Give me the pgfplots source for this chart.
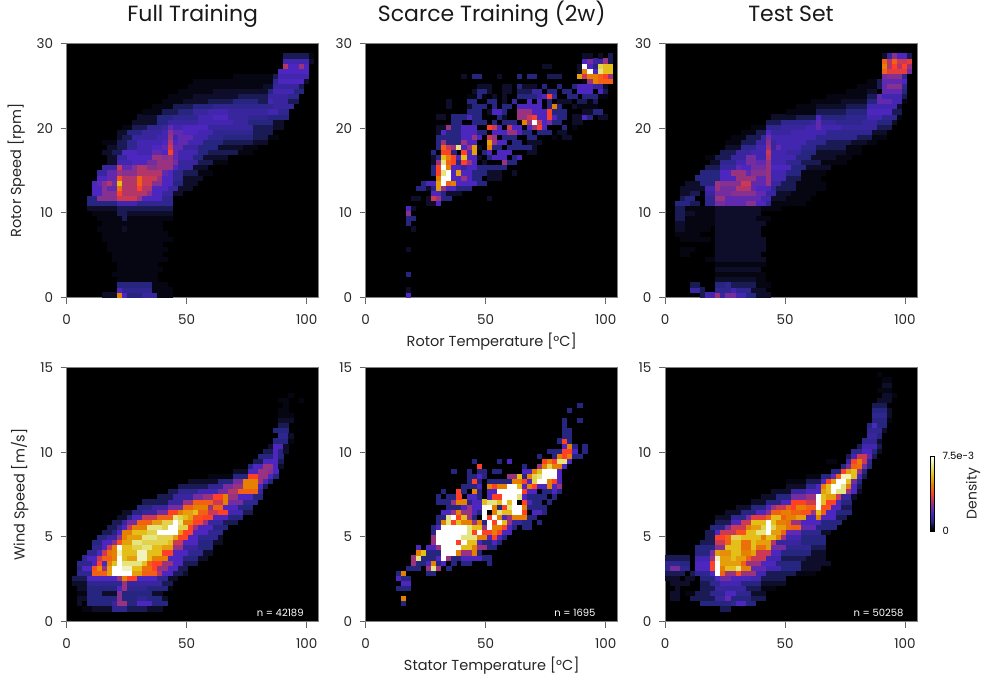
\documentclass[border=0pt]{standalone}
\usepackage{pgfplots}
\pgfplotsset{compat=1.18}
\usepackage{pgfplotstable}
\usepackage{fontspec}
\setmainfont{Poppins}
\pgfdeclareplotmark{cell}{\pgfpathrectangle{\pgfpointorigin}{\pgfpoint{\cw pt}{5.2pt}}\pgfusepathqfill}
% i = first bin, j = row, n = bins in the run, v = density level (0 to 32 = 0 to 7.5e-3)
\pgfplotstableread{
i j n v
7 0 3 2
10 0 1 20
11 0 1 8
12 0 3 4
15 0 3 6
18 0 3 1
10 1 1 8
11 1 3 5
14 1 3 5
17 1 4 1
10 2 7 4
17 2 3 1
10 3 8 1
9 4 9 1
10 5 9 1
10 6 8 1
9 7 11 1
9 8 10 1
8 9 12 1
8 10 11 1
7 11 14 1
7 12 13 1
6 13 5 1
11 13 1 2
12 13 7 1
7 14 12 1
6 15 5 1
11 15 1 3
12 15 9 1
5 16 5 1
10 16 2 3
12 16 9 2
4 17 6 2
10 17 11 3
4 18 6 4
10 18 4 7
14 18 7 5
4 19 2 4
6 19 4 11
10 19 4 14
14 19 1 12
15 19 4 8
19 19 2 5
5 20 2 8
7 20 3 11
10 20 1 16
11 20 5 13
16 20 1 11
17 20 2 8
19 20 2 6
21 20 2 2
5 21 2 8
7 21 1 11
8 21 2 9
10 21 1 19
11 21 3 13
14 21 1 16
15 21 2 13
17 21 3 8
20 21 2 6
22 21 3 2
5 22 1 8
6 22 1 9
7 22 1 11
8 22 1 13
9 22 1 10
10 22 1 24
11 22 3 13
14 22 1 18
15 22 2 14
17 22 2 11
19 22 2 8
21 22 2 4
23 22 3 2
6 23 2 8
8 23 2 9
10 23 1 17
11 23 3 13
14 23 1 18
15 23 3 14
18 23 1 12
19 23 2 8
21 23 2 5
23 23 4 2
6 24 2 6
8 24 2 9
10 24 1 12
11 24 3 11
14 24 2 13
16 24 3 13
19 24 1 9
20 24 1 8
21 24 2 5
23 24 3 3
26 24 3 1
7 25 3 6
10 25 1 14
11 25 2 9
13 25 1 11
14 25 2 13
16 25 2 11
18 25 3 12
21 25 1 8
22 25 3 6
25 25 3 2
8 26 2 2
10 26 3 7
13 26 3 8
16 26 2 10
18 26 2 12
20 26 1 12
21 26 1 10
22 26 4 6
26 26 3 3
29 26 3 1
8 27 2 2
10 27 2 6
12 27 5 8
17 27 2 12
19 27 1 11
20 27 1 12
21 27 1 9
22 27 3 7
25 27 2 4
27 27 5 2
7 28 2 2
9 28 2 3
11 28 3 8
14 28 3 7
17 28 2 9
19 28 1 8
20 28 1 16
21 28 1 9
22 28 4 7
26 28 2 4
28 28 6 3
34 28 3 1
8 29 2 2
10 29 2 3
12 29 2 5
14 29 3 7
17 29 2 8
19 29 1 9
20 29 1 14
21 29 2 9
23 29 3 6
26 29 4 4
30 29 5 2
35 29 3 1
7 30 3 1
10 30 2 3
12 30 2 5
14 30 5 7
19 30 1 8
20 30 1 13
21 30 1 8
22 30 2 9
24 30 3 7
27 30 4 4
31 30 6 3
37 30 3 2
10 31 1 2
11 31 2 3
13 31 5 6
18 31 2 7
20 31 1 12
21 31 1 7
22 31 3 9
25 31 3 7
28 31 3 5
31 31 6 4
37 31 3 3
40 31 2 1
10 32 2 2
12 32 3 4
15 32 4 6
19 32 1 7
20 32 1 11
21 32 2 9
23 32 3 8
26 32 3 7
29 32 8 5
37 32 4 3
11 33 2 1
13 33 3 3
16 33 3 5
19 33 1 6
20 33 1 9
21 33 2 7
23 33 5 8
28 33 9 6
37 33 4 3
41 33 2 2
13 34 5 2
18 34 2 4
20 34 6 6
26 34 7 7
33 34 3 6
36 34 5 4
41 34 2 2
14 35 4 2
18 35 3 4
21 35 5 5
26 35 3 7
29 35 3 8
32 35 4 6
36 35 4 5
40 35 4 4
15 36 4 1
19 36 3 3
22 36 3 4
25 36 3 6
28 36 4 7
32 36 8 6
40 36 2 7
42 36 2 5
17 37 4 1
21 37 4 3
25 37 4 4
29 37 12 5
41 37 4 6
19 38 4 1
23 38 5 2
28 38 5 3
33 38 5 4
38 38 2 3
40 38 1 7
41 38 3 6
44 38 2 3
20 39 5 1
25 39 9 2
34 39 6 3
40 39 4 6
44 39 2 5
22 40 7 1
29 40 11 2
40 40 1 4
41 40 4 7
45 40 2 4
24 41 15 1
39 41 2 2
41 41 5 6
46 41 1 3
25 42 16 1
41 42 1 5
42 42 5 8
47 42 1 2
33 43 8 1
41 43 1 3
42 43 6 7
42 44 6 8
43 45 1 13
44 45 2 8
46 45 1 12
47 45 1 8
43 46 5 7
48 46 1 2
43 47 5 3
48 47 1 1
}\tA
\pgfplotstableread{
i j n v
8 0 1 8
8 1 1 2
8 4 1 4
8 9 1 2
9 13 1 2
8 14 1 4
8 15 2 4
8 16 1 11
8 17 1 8
9 17 1 2
12 18 2 2
14 18 1 8
9 19 2 2
12 19 1 2
13 19 1 14
14 19 1 12
15 19 2 4
24 19 1 2
13 20 2 8
15 20 1 4
16 20 3 2
10 21 2 4
12 21 1 2
13 21 1 4
14 21 1 22
15 21 1 12
16 21 2 8
18 21 3 4
11 22 1 4
12 22 2 8
14 22 1 22
15 22 1 32
16 22 1 18
17 22 1 20
18 22 3 8
21 22 1 8
22 22 2 4
14 23 1 20
15 23 2 32
17 23 2 8
19 23 1 12
20 23 1 8
21 23 2 4
24 23 3 2
13 24 1 4
14 24 1 16
15 24 1 28
16 24 1 32
17 24 1 8
18 24 1 22
19 24 2 8
21 24 1 4
22 24 2 4
24 24 3 2
29 24 1 2
13 25 1 4
14 25 1 16
15 25 1 32
16 25 1 20
17 25 2 8
19 25 1 6
20 25 2 8
22 25 4 4
26 25 2 4
13 26 1 2
14 26 1 12
15 26 1 28
16 26 1 18
17 26 1 16
18 26 1 4
19 26 1 16
20 26 1 12
21 26 1 8
23 26 1 2
27 26 1 12
28 26 2 4
13 27 1 2
14 27 1 4
15 27 1 24
16 27 1 20
17 27 1 16
18 27 1 8
19 27 1 24
20 27 2 8
22 27 1 2
24 27 1 4
25 27 3 8
29 27 1 4
30 27 1 8
13 28 1 4
15 28 2 16
17 28 1 4
19 28 1 16
20 28 1 8
21 28 1 22
23 28 1 4
24 28 1 8
26 28 3 8
32 28 2 2
14 29 2 4
15 29 1 18
16 29 1 14
17 29 1 12
18 29 1 28
19 29 1 8
20 29 1 12
21 29 1 22
22 29 1 2
24 29 1 20
25 29 2 4
28 29 5 4
33 29 1 2
14 30 1 4
15 30 1 12
16 30 1 4
17 30 2 4
19 30 1 12
20 30 2 8
24 30 1 22
25 30 1 12
26 30 2 8
29 30 2 4
32 30 2 2
34 30 1 2
14 31 5 4
19 31 2 8
21 31 1 12
22 31 1 8
24 31 1 14
25 31 1 12
27 31 3 4
32 31 2 4
37 31 1 1
39 31 2 2
14 32 1 2
15 32 1 8
16 32 1 4
17 32 2 4
19 32 1 8
20 32 2 8
22 32 2 4
25 32 3 8
28 32 1 12
29 32 1 12
30 32 1 8
31 32 2 4
34 32 3 4
38 32 2 2
14 33 3 2
16 33 1 12
17 33 2 4
19 33 3 8
24 33 1 16
25 33 1 14
26 33 1 8
28 33 1 14
29 33 2 8
32 33 1 8
33 33 1 12
34 33 1 16
35 33 1 8
39 33 1 4
41 33 1 1
17 34 2 4
21 34 3 4
25 34 1 4
27 34 3 4
31 34 1 20
32 34 1 12
33 34 1 32
34 34 1 14
35 34 3 8
36 34 1 10
37 34 2 4
41 34 1 2
42 34 1 2
14 35 2 2
17 35 3 4
20 35 1 8
21 35 2 4
26 35 1 4
27 35 1 2
30 35 2 12
32 35 1 14
33 35 1 16
34 35 2 8
36 35 1 16
37 35 1 8
38 35 2 4
41 35 2 2
43 35 1 8
44 35 1 4
46 35 2 2
20 36 3 4
24 36 1 2
25 36 2 8
27 36 1 4
30 36 3 12
33 36 3 8
36 36 1 16
37 36 3 4
43 36 2 2
45 36 2 4
16 37 1 2
20 37 1 2
21 37 3 4
25 37 1 4
27 37 2 4
30 37 3 8
33 37 2 8
36 37 2 4
37 37 1 20
38 37 1 4
41 37 3 2
42 37 4 1
16 38 1 2
20 38 2 4
24 38 2 4
27 38 1 2
29 38 1 6
32 38 1 8
34 38 1 8
36 38 1 4
38 38 3 2
42 38 4 3
44 38 1 1
20 39 4 1
22 39 1 4
25 39 1 2
27 39 1 2
30 39 4 4
34 39 1 6
35 39 1 8
36 39 1 16
37 39 1 6
40 39 2 4
43 39 4 4
46 39 2 1
21 40 1 2
22 40 2 4
24 40 1 2
27 40 2 2
30 40 3 3
33 40 2 6
36 40 2 4
39 40 2 4
42 40 1 8
43 40 2 8
46 40 1 8
47 40 1 3
22 41 3 2
27 41 2 2
30 41 1 4
31 41 3 2
35 41 1 4
38 41 1 4
41 41 2 4
42 41 3 8
45 41 1 6
46 41 2 6
47 41 1 2
19 43 1 2
21 43 2 4
26 43 1 2
30 43 1 4
32 43 2 4
36 43 2 3
38 43 1 3
43 42 1 1
44 42 1 12
45 42 1 20
46 42 3 18
42 43 1 22
43 43 1 14
44 43 2 20
46 43 2 18
47 43 1 16
48 43 1 12
42 44 1 2
43 44 1 20
44 44 1 32
45 44 1 8
46 44 1 28
47 44 2 24
35 45 2 2
42 45 2 2
43 45 1 32
44 45 1 8
45 45 1 4
46 45 1 26
47 45 2 24
43 46 1 8
44 46 1 10
45 46 2 6
47 46 1 12
48 46 1 3
43 47 2 2
46 47 1 2
48 47 1 3
}\tB
\pgfplotstableread{
i j n v
7 0 1 3
8 0 2 7
10 0 1 12
11 0 1 6
12 0 2 10
14 0 2 7
16 0 2 4
18 0 3 2
5 1 2 6
7 1 1 3
10 1 3 5
13 1 1 7
14 1 3 5
17 1 3 2
5 2 2 3
10 2 2 4
12 2 1 5
13 2 5 3
18 2 3 1
10 3 8 2
18 3 2 1
10 4 10 1
10 5 9 2
10 6 10 1
8 7 2 1
10 7 10 2
3 8 2 1
10 8 9 2
3 9 3 1
10 9 10 2
10 10 10 2
3 11 6 1
10 11 10 2
2 12 5 1
10 12 9 2
2 13 2 2
4 13 5 1
10 13 9 2
2 14 2 2
4 14 6 1
10 14 10 2
2 15 2 3
4 15 6 1
10 15 8 2
18 15 3 1
2 16 2 3
4 16 2 2
6 16 4 1
10 16 9 2
2 17 2 3
4 17 6 1
10 17 9 2
19 17 4 1
2 18 3 4
5 18 2 3
8 18 2 5
10 18 2 10
12 18 4 9
16 18 2 11
18 18 2 8
20 18 1 5
21 18 7 1
3 19 2 3
4 19 2 4
8 19 2 5
10 19 2 12
12 19 5 9
17 19 2 9
19 19 2 7
21 19 3 2
24 19 5 1
3 20 2 2
5 20 2 3
8 20 2 6
10 20 3 10
13 20 3 11
16 20 2 11
18 20 2 9
20 20 2 6
22 20 3 2
25 20 5 1
3 21 3 2
6 21 3 2
8 21 2 7
10 21 1 12
11 21 3 10
14 21 3 13
17 21 1 9
18 21 3 8
21 21 1 5
22 21 4 3
26 21 6 1
4 22 3 2
7 22 3 4
10 22 1 12
11 22 4 11
15 22 2 14
17 22 3 9
20 22 1 12
21 22 2 6
23 22 3 3
26 22 6 1
6 23 5 4
11 23 3 8
14 23 4 12
18 23 2 9
20 23 1 12
21 23 3 7
24 23 3 3
27 23 4 1
7 24 4 4
11 24 2 8
13 24 3 12
16 24 1 9
17 24 3 11
20 24 1 12
21 24 3 7
24 24 3 4
27 24 5 1
8 25 3 3
11 25 3 6
14 25 1 9
15 25 2 8
17 25 3 10
20 25 1 12
21 25 4 8
25 25 3 4
28 25 5 2
9 26 2 2
11 26 3 5
14 26 2 7
16 26 2 10
18 26 2 9
20 26 1 12
21 26 3 7
24 26 3 5
27 26 4 3
31 26 5 1
8 27 2 1
10 27 3 3
13 27 3 6
16 27 2 10
18 27 2 7
20 27 1 13
21 27 5 7
26 27 3 4
29 27 5 2
34 27 3 1
11 28 3 3
14 28 3 6
17 28 3 7
20 28 1 14
21 28 3 7
24 28 3 6
27 28 3 4
30 28 6 2
36 28 3 1
12 29 3 2
15 29 3 5
18 29 2 7
20 29 1 12
21 29 1 6
22 29 1 9
23 29 1 7
24 29 3 7
27 29 3 5
30 29 6 3
36 29 3 1
12 30 3 1
15 30 3 3
18 30 2 6
20 30 1 11
21 30 1 6
22 30 3 7
25 30 3 7
28 30 4 5
32 30 5 3
37 30 3 2
40 30 2 1
13 31 3 1
16 31 3 3
19 31 1 6
20 31 1 10
21 31 5 7
26 31 4 7
30 31 8 5
38 31 3 3
41 31 3 1
15 32 3 1
18 32 2 3
20 32 1 8
21 32 4 6
25 32 3 7
28 32 3 7
31 32 1 7
32 32 6 5
38 32 3 5
41 32 3 2
17 33 3 1
20 33 3 5
23 33 5 6
28 33 3 7
30 33 1 9
31 33 4 7
35 33 5 6
40 33 2 6
42 33 3 3
20 34 3 3
23 34 6 5
29 34 5 6
30 34 1 9
34 34 5 5
39 34 3 6
42 34 3 4
45 34 1 2
21 35 5 2
26 35 4 3
30 35 1 8
31 35 5 4
36 35 4 5
40 35 3 7
43 35 3 5
46 35 1 1
24 36 6 1
30 36 6 3
36 36 4 4
40 36 1 8
41 36 4 8
45 36 2 3
26 37 4 1
30 37 6 2
36 37 4 3
40 37 6 7
46 37 1 2
29 38 6 1
35 38 5 2
40 38 2 4
42 38 3 9
45 38 2 7
47 38 1 1
32 39 8 1
40 39 2 3
42 39 1 9
43 39 4 7
47 39 1 3
36 40 4 1
40 40 2 2
43 40 1 6
43 40 4 9
47 40 1 4
38 41 4 1
42 41 1 3
43 41 1 9
44 41 4 11
47 41 1 5
40 42 2 1
42 42 1 3
43 42 5 9
47 42 1 8
43 43 1 10
44 43 4 11
47 43 1 5
43 44 1 18
44 44 4 15
48 44 1 10
43 45 1 20
44 45 1 13
45 45 1 16
46 45 1 13
47 45 1 16
48 45 1 12
43 46 1 18
44 46 1 13
45 46 1 18
46 46 2 14
48 46 1 15
43 47 1 2
44 47 1 6
45 47 1 11
46 47 2 8
48 47 1 3
}\tC
\pgfplotstableread{
i j n v
3 2 2 1
5 2 4 2
9 2 3 5
12 2 4 3
16 2 3 2
2 3 1 2
4 3 5 4
9 3 1 6
10 3 2 12
12 3 2 4
14 3 3 8
17 3 3 4
2 4 2 2
4 4 6 4
10 4 1 11
11 4 3 4
14 4 2 5
16 4 3 4
19 4 1 2
2 5 2 1
4 5 3 4
7 5 3 2
10 5 1 11
11 5 6 4
17 5 2 2
2 6 2 2
4 6 6 4
10 6 1 8
11 6 1 12
12 6 4 5
16 6 4 4
20 6 1 1
1 7 3 2
4 7 7 5
11 7 1 12
12 7 7 6
19 7 2 3
1 8 3 3
4 8 6 8
10 8 1 12
11 8 1 20
12 8 2 16
14 8 4 8
18 8 2 5
20 8 2 2
2 9 3 5
5 9 3 18
8 9 1 22
9 9 4 32
13 9 2 22
15 9 3 18
18 9 1 13
19 9 2 8
21 9 2 3
23 9 1 2
2 10 1 4
3 10 2 8
5 10 1 17
6 10 1 21
7 10 1 12
8 10 1 22
9 10 2 32
11 10 2 30
13 10 2 24
15 10 2 19
17 10 1 16
18 10 2 12
20 10 2 8
22 10 2 3
2 11 3 5
5 11 1 8
6 11 1 16
7 11 1 8
8 11 1 20
9 11 1 24
10 11 1 32
11 11 4 28
15 11 1 24
16 11 1 18
17 11 2 16
19 11 2 12
21 11 2 8
23 11 3 3
3 12 1 5
4 12 2 8
6 12 1 14
7 12 2 18
9 12 1 20
10 12 1 32
11 12 1 24
12 12 2 22
14 12 2 30
16 12 1 24
17 12 3 20
20 12 3 8
23 12 3 4
26 12 2 2
4 13 2 5
6 13 1 8
7 13 1 14
8 13 1 19
9 13 1 20
10 13 1 30
11 13 3 24
14 13 2 30
16 13 3 24
19 13 2 16
21 13 3 8
24 13 3 5
27 13 2 2
5 14 2 5
7 14 1 8
8 14 1 14
9 14 1 20
10 14 1 32
11 14 2 24
13 14 2 26
15 14 2 28
17 14 2 24
19 14 2 22
21 14 2 12
23 14 3 6
26 14 3 4
5 15 2 4
7 15 2 8
9 15 1 11
10 15 1 17
11 15 2 22
13 15 2 28
15 15 5 26
20 15 1 24
21 15 2 14
23 15 3 8
26 15 3 4
29 15 2 2
6 16 2 4
8 16 2 6
10 16 1 12
11 16 1 20
12 16 3 22
15 16 3 28
18 16 3 26
21 16 1 22
22 16 2 16
24 16 2 8
26 16 4 5
30 16 1 2
7 17 2 3
9 17 1 4
10 17 1 8
11 17 2 20
13 17 3 24
16 17 2 26
18 17 4 32
22 17 1 22
23 17 2 16
25 17 3 8
28 17 3 5
8 18 2 3
10 18 1 5
11 18 1 8
12 18 1 14
13 18 3 20
16 18 3 28
19 18 1 26
20 18 2 32
22 18 2 26
24 18 1 16
25 18 1 12
26 18 3 8
29 18 3 4
9 19 2 3
11 19 1 6
12 19 2 10
14 19 3 18
17 19 2 22
19 19 2 26
21 19 1 32
22 19 1 28
23 19 2 20
25 19 2 16
27 19 1 12
28 19 3 6
31 19 3 3
10 20 2 2
12 20 1 4
13 20 2 8
15 20 3 14
18 20 3 18
21 20 1 28
22 20 1 26
23 20 1 24
24 20 1 22
25 20 2 17
27 20 2 16
29 20 3 8
32 20 3 4
11 21 2 2
13 21 2 4
15 21 3 6
18 21 2 10
20 21 2 16
22 21 1 20
23 21 2 22
25 21 1 24
26 21 2 18
28 21 2 14
30 21 2 16
32 21 3 7
35 21 2 3
14 22 3 4
17 22 3 6
20 22 3 10
23 22 2 18
25 22 3 20
28 22 1 12
29 22 2 18
31 22 3 8
34 22 3 4
15 23 5 3
20 23 3 6
23 23 2 12
25 23 4 18
29 23 2 14
31 23 1 20
32 23 3 10
35 23 3 5
18 24 3 3
21 24 4 6
25 24 2 10
27 24 2 12
29 24 2 16
31 24 1 20
32 24 2 12
34 24 3 8
37 24 2 4
20 25 2 3
22 25 4 5
26 25 4 7
30 25 2 10
32 25 2 13
34 25 4 18
38 25 1 6
22 26 6 3
28 26 3 5
31 26 2 10
33 26 2 12
35 26 3 20
38 26 1 8
39 26 1 3
24 27 6 2
30 27 3 4
33 27 2 10
35 27 3 20
38 27 1 12
39 27 1 8
40 27 1 4
28 28 5 1
33 28 3 4
36 28 2 16
38 28 2 12
40 28 1 8
41 28 1 4
33 29 3 2
36 29 2 8
38 29 2 12
40 29 1 11
41 29 1 8
36 30 1 4
37 30 2 8
39 30 2 12
41 30 1 8
42 30 1 2
37 31 2 3
39 31 2 8
41 31 1 8
42 31 1 3
38 32 3 4
41 32 1 8
42 32 1 4
39 33 2 3
41 33 1 8
42 33 1 4
43 33 1 2
40 34 1 2
41 34 2 8
43 34 1 2
41 35 3 4
44 35 1 1
42 36 2 5
44 36 1 2
41 37 3 4
42 38 2 3
42 39 3 2
42 40 3 1
42 41 2 1
43 42 1 1
42 43 2 1
46 43 1 1
44 44 1 1
}\tD
\pgfplotstableread{
i j n v
7 3 1 4
7 4 1 20
6 6 3 4
7 7 1 8
8 7 1 8
6 8 1 8
7 8 2 4
6 9 1 4
7 9 1 20
12 9 2 4
8 10 3 4
12 10 1 12
13 10 1 28
14 10 1 12
16 10 1 4
9 11 1 12
10 11 2 4
12 11 1 8
13 11 1 20
14 11 1 4
15 11 1 8
17 11 1 4
19 11 2 4
24 11 1 4
9 12 1 12
10 12 1 28
11 12 3 4
14 12 1 8
15 12 1 32
16 12 1 12
17 12 2 4
19 12 4 8
23 12 2 4
10 13 1 20
11 13 1 24
12 13 3 4
15 13 3 32
18 13 1 20
19 13 2 12
21 13 1 20
22 13 1 4
10 14 1 8
12 14 2 8
14 14 1 12
15 14 4 32
19 14 2 24
21 14 1 20
22 14 2 12
24 14 2 4
13 15 1 12
14 15 4 32
18 15 1 16
19 15 1 32
20 15 2 24
22 15 1 8
23 15 2 4
25 15 1 8
26 15 1 4
13 16 1 12
14 16 5 32
19 16 3 28
22 16 2 20
24 16 1 8
25 16 1 16
26 16 1 8
27 16 1 4
13 17 1 4
14 17 6 32
20 17 1 28
21 17 1 16
22 17 1 32
23 17 2 16
25 17 1 20
26 17 1 16
27 17 2 8
13 18 1 4
14 18 1 8
15 18 5 32
20 18 1 28
21 18 2 24
23 18 1 12
24 18 1 32
25 18 2 20
27 18 1 16
28 18 1 8
29 18 1 4
31 18 2 4
14 19 1 4
15 19 1 20
16 19 1 28
17 19 1 16
18 19 1 24
19 19 2 20
21 19 1 12
22 19 1 20
23 19 1 4
24 19 1 32
25 19 1 16
26 19 1 32
27 19 1 24
28 19 1 12
29 19 2 6
31 19 2 4
34 19 1 4
14 20 2 4
16 20 1 28
17 20 1 32
18 20 1 16
19 20 1 24
20 20 1 12
21 20 1 4
23 20 1 32
24 20 1 16
25 20 1 32
26 20 1 20
27 20 1 8
28 20 1 12
29 20 3 20
32 20 2 4
15 21 2 8
17 21 1 12
18 21 1 20
19 21 2 12
21 21 1 8
22 21 1 4
23 21 1 32
25 21 1 20
26 21 1 28
27 21 2 24
29 21 2 32
31 21 1 16
33 21 2 8
35 21 1 4
16 22 3 4
19 22 1 8
20 22 1 12
21 22 2 8
23 22 2 32
25 22 1 20
26 22 1 4
27 22 1 16
28 22 1 28
29 22 2 32
31 22 1 20
32 22 4 4
14 23 3 4
17 23 1 12
18 23 2 20
20 23 1 4
21 23 2 8
23 23 1 24
24 23 2 28
26 23 1 24
27 23 1 32
28 23 1 24
29 23 1 32
31 23 1 16
32 23 1 8
33 23 2 4
36 23 1 4
14 24 1 4
16 24 2 4
18 24 1 16
20 24 1 8
21 24 1 8
22 24 1 4
24 24 1 8
25 24 2 16
27 24 3 32
30 24 1 28
31 24 1 8
32 24 2 4
34 24 2 4
37 24 1 4
15 25 1 4
18 25 1 16
19 25 1 4
21 25 1 20
22 25 1 4
24 25 2 8
26 25 4 32
30 25 1 32
31 25 1 16
32 25 2 8
35 25 2 4
37 25 1 8
38 25 1 4
19 26 1 4
20 26 2 4
22 26 1 8
24 26 1 20
25 26 1 16
26 26 2 20
28 26 2 32
30 26 1 24
31 26 1 8
32 26 1 20
33 26 1 16
34 26 2 8
36 26 1 20
37 26 1 8
38 26 1 12
20 27 1 4
21 27 1 16
22 27 1 4
24 27 1 4
25 27 1 4
26 27 1 4
27 27 2 4
29 27 2 20
31 27 1 16
32 27 1 8
33 27 1 26
34 27 2 32
36 27 1 20
37 27 1 16
38 27 1 8
20 28 1 4
21 28 1 4
22 28 1 8
23 28 1 4
28 28 3 12
30 28 1 24
31 28 1 4
32 28 2 20
33 28 1 26
34 28 1 28
35 28 3 32
38 28 1 8
17 29 1 4
20 29 1 4
22 29 2 4
25 29 2 4
31 29 2 8
33 29 1 20
34 29 1 24
35 29 3 32
38 29 1 8
22 30 1 16
31 30 1 4
34 30 1 12
35 30 1 20
36 30 1 26
37 30 2 20
39 30 1 8
21 31 1 4
26 31 1 4
28 31 1 8
35 31 1 16
36 31 1 20
37 31 1 16
38 31 2 28
40 31 1 8
34 32 1 4
37 32 1 4
38 32 1 20
39 32 1 16
40 32 1 20
41 32 2 4
36 33 3 4
39 33 1 16
40 33 1 16
41 33 1 8
43 33 1 4
39 34 1 8
40 34 1 20
41 34 1 4
43 34 1 4
38 35 2 4
39 35 1 16
40 35 1 4
39 36 2 4
40 36 1 4
39 37 2 4
39 38 1 4
39 39 1 4
42 39 1 4
40 41 1 4
42 42 1 4
}\tE
\pgfplotstableread{
i j n v
11 2 2 3
7 3 6 4
13 3 1 5
14 3 2 8
16 3 2 4
1 4 2 2
5 4 5 3
10 4 2 6
12 4 1 9
13 4 4 4
17 4 3 3
1 5 2 2
4 5 2 1
6 5 3 3
9 5 3 5
12 5 2 8
14 5 3 5
17 5 3 2
2 6 1 2
7 6 3 3
10 6 3 6
13 6 3 6
16 6 3 3
19 6 3 1
1 7 3 2
4 7 1 2
7 7 2 3
9 7 2 5
11 7 4 7
15 7 4 4
19 7 5 2
0 8 3 2
4 8 2 2
7 8 3 4
10 8 1 8
11 8 2 10
13 8 4 8
17 8 2 7
19 8 5 3
0 9 4 3
5 9 1 3
6 9 3 5
9 9 1 8
10 9 1 32
11 9 1 18
12 9 2 12
14 9 1 17
15 9 3 12
18 9 2 7
20 9 6 3
26 9 4 1
0 10 1 5
1 10 2 10
3 10 2 5
6 10 3 8
9 10 1 16
10 10 1 32
11 10 1 20
12 10 2 24
14 10 1 28
15 10 2 20
17 10 3 9
20 10 3 7
23 10 4 4
27 10 4 2
0 11 3 5
3 11 2 4
6 11 3 8
9 11 1 16
10 11 1 32
11 11 2 22
13 11 2 22
15 11 1 18
16 11 3 12
19 11 3 8
22 11 5 4
27 11 6 2
0 12 5 3
6 12 3 7
9 12 1 12
10 12 1 30
11 12 2 22
13 12 1 24
14 12 2 22
16 12 1 18
17 12 3 14
20 12 3 7
23 12 5 3
28 12 4 2
6 13 3 4
9 13 1 10
10 13 1 22
11 13 2 21
13 13 2 24
15 13 2 20
17 13 1 22
18 13 3 14
21 13 2 8
23 13 6 4
29 13 3 2
6 14 4 4
10 14 2 11
12 14 3 24
15 14 2 19
17 14 1 24
18 14 2 19
20 14 1 22
21 14 3 10
24 14 5 5
29 14 3 3
7 15 3 3
10 15 2 14
12 15 1 18
13 15 2 24
15 15 2 19
17 15 1 24
18 15 3 22
21 15 1 13
22 15 5 6
27 15 5 4
8 16 2 3
10 16 2 16
12 16 1 18
13 16 2 26
15 16 2 24
17 16 2 24
19 16 1 20
20 16 2 24
22 16 1 20
23 16 1 12
24 16 3 7
27 16 5 4
8 17 2 3
10 17 1 8
11 17 3 14
14 17 2 17
16 17 2 24
18 17 2 28
20 17 1 32
21 17 2 22
23 17 1 18
24 17 3 9
27 17 4 5
31 17 2 2
9 18 3 4
12 18 1 10
13 18 3 14
16 18 1 20
17 18 2 22
19 18 1 26
20 18 1 32
21 18 1 26
22 18 2 22
24 18 1 19
25 18 2 18
27 18 3 9
30 18 4 4
10 19 3 3
13 19 2 8
15 19 2 14
17 19 3 24
20 19 1 32
21 19 1 24
22 19 2 20
24 19 1 19
25 19 2 12
27 19 4 8
31 19 4 4
10 20 3 2
13 20 3 5
16 20 1 10
17 20 3 15
20 20 1 18
21 20 2 24
23 20 1 18
24 20 2 20
26 20 2 22
28 20 2 8
30 20 1 20
31 20 3 8
34 20 2 3
12 21 3 2
15 21 3 4
18 21 2 8
20 21 1 11
21 21 2 18
23 21 2 20
25 21 2 18
27 21 2 17
29 21 1 12
30 21 1 24
31 21 1 18
32 21 2 8
34 21 3 4
14 22 3 2
17 22 3 4
20 22 1 8
21 22 1 12
22 22 2 14
24 22 1 18
25 22 1 16
26 22 2 20
28 22 2 18
30 22 1 32
31 22 2 17
33 22 2 8
35 22 2 3
17 23 3 2
20 23 3 4
23 23 2 8
25 23 3 16
28 23 2 14
30 23 1 32
31 23 1 24
32 23 2 16
34 23 1 8
35 23 2 4
19 24 3 2
22 24 3 4
25 24 3 10
28 24 2 12
30 24 1 32
31 24 1 24
32 24 2 22
34 24 1 14
35 24 2 6
37 24 1 2
21 25 4 2
25 25 3 6
28 25 3 8
31 25 1 22
32 25 1 24
33 25 1 32
34 25 2 28
36 25 1 12
37 25 1 8
38 25 1 2
24 26 4 2
28 26 2 5
30 26 1 8
31 26 1 20
32 26 1 24
33 26 2 32
35 26 1 28
36 26 1 20
37 26 1 8
38 26 1 3
24 27 4 1
28 27 3 3
31 27 1 8
32 27 1 16
33 27 1 22
34 27 2 32
36 27 1 24
37 27 1 10
38 27 1 4
28 28 3 1
31 28 2 4
33 28 1 9
34 28 1 18
35 28 2 30
37 28 1 24
38 28 1 8
39 28 1 3
33 29 2 4
35 29 1 16
36 29 1 22
37 29 1 24
38 29 1 12
39 29 1 4
35 30 1 4
36 30 1 10
37 30 1 18
38 30 1 19
39 30 1 10
40 30 1 4
32 31 2 1
36 31 1 6
37 31 1 16
38 31 1 20
39 31 1 14
40 31 1 5
36 32 1 3
37 32 1 7
38 32 2 14
40 32 1 9
41 32 1 3
37 33 2 5
39 33 2 8
41 33 1 4
42 33 1 2
38 34 1 3
39 34 3 7
42 34 1 3
39 35 3 5
42 35 1 2
40 36 2 6
42 36 1 4
40 37 3 5
43 37 1 2
40 38 1 4
41 38 1 8
42 38 2 4
41 39 3 4
44 39 1 1
41 40 3 5
44 40 1 2
41 41 3 4
44 41 1 2
41 42 3 3
42 43 3 2
43 44 2 2
45 44 1 1
42 45 3 1
43 46 2 2
43 47 2 1
42 48 1 1
}\tF
\tikzset{nlab/.style={white,font=\fontsize{10}{11}\selectfont,anchor=east}}
\pgfplotsset{
 panel/.style={scale only axis,width=252pt,height=254.4pt,
  anchor=south west,xmin=0,xmax=105,ymin=0,
  axis background/.style={fill=black},
  axis line style={draw=black!50,line width=1pt},
  tick style={draw=black!60,line width=1pt},
  major tick length=6pt,tick align=outside,
  xtick={0,50,100},xtick pos=bottom,ytick pos=left,
  /pgf/number format/assume math mode=true,
  tick label style={font=\fontsize{13.5}{15}\selectfont,text=black!85},
  xticklabel style={yshift=-7pt},
  yticklabel style={xshift=-4pt},
  xlabel style={font=\fontsize{14.5}{16}\selectfont,text=black!85,yshift=-2pt},
  ylabel style={font=\fontsize{14.5}{16}\selectfont,text=black!85,yshift=5pt},
  title style={font=\fontsize{22}{24}\selectfont,text=black!90,text height=15pt,text depth=5pt,yshift=7pt},
  colormap={cmr}{rgb(0pt)=(0,0,0); rgb(1pt)=(.025,.025,.07); rgb(2pt)=(.055,.055,.17); rgb(4pt)=(.15,.15,.5); rgb(8pt)=(.3,.15,.75); rgb(12pt)=(.6,.2,.5); rgb(16pt)=(1,.25,.15); rgb(20pt)=(.9,.5,0); rgb(24pt)=(.9,.75,.1); rgb(28pt)=(.9,.9,.5); rgb(32pt)=(1,1,1)},
  point meta min=0,point meta max=32},
 rowa/.style={panel,ymax=30,ytick={0,10,20,30}},
 rowb/.style={panel,ymax=15,ytick={0,5,10,15}},
 cellplot/.style={only marks,scatter,mark=cell,scatter/use mapped color={fill=mapped color,draw=none},
  visualization depends on={\thisrow{n}*5.04+0.15\as\cw},point meta=\thisrow{v}}
}
\begin{document}
\begin{tikzpicture}[x=1pt,y=1pt]
\useasboundingbox (0,0) rectangle (984,679);
\begin{axis}[rowa,at={(66.7pt,381.3pt)},title={Full Training},ylabel={Rotor Speed [rpm]}]
\addplot[cellplot] table[x expr=\thisrow{i}*2.1,y expr=\thisrow{j}*0.6] {\tA};
\end{axis}
\begin{axis}[rowa,at={(365.7pt,381.3pt)},title={Scarce Training (2w)},xlabel={Rotor Temperature [°C]}]
\addplot[cellplot] table[x expr=\thisrow{i}*2.1,y expr=\thisrow{j}*0.6] {\tB};
\end{axis}
\begin{axis}[rowa,at={(665pt,381.3pt)},title={Test Set}]
\addplot[cellplot] table[x expr=\thisrow{i}*2.1,y expr=\thisrow{j}*0.6] {\tC};
\end{axis}
\begin{axis}[rowb,at={(66.7pt,57.3pt)},ylabel={Wind Speed [m/s]}]
\addplot[cellplot] table[x expr=\thisrow{i}*2.1,y expr=\thisrow{j}*0.3] {\tD};
\node[nlab] at (rel axis cs:0.954,0.036) {n = 42189};
\end{axis}
\begin{axis}[rowb,at={(365.7pt,57.3pt)},xlabel={Stator Temperature [°C]}]
\addplot[cellplot] table[x expr=\thisrow{i}*2.1,y expr=\thisrow{j}*0.3] {\tE};
\node[nlab] at (rel axis cs:0.926,0.036) {n = 1695};
\end{axis}
\begin{axis}[rowb,at={(665pt,57.3pt)},
 colorbar,colorbar style={at={(1.054,0.3565)},anchor=south west,
  width=3.5pt,height=75pt,scale only axis,ytick={0,32},yticklabels={0,7.5e-3},
  ytick pos=left,yticklabel pos=right,major tick length=4pt,
  axis line style={draw=black,line width=.8pt},tick style={draw=black,line width=.8pt},
  tick label style={font=\fontsize{10}{11}\selectfont},yticklabel style={xshift=5pt},
  ylabel={Density},ylabel style={font=\fontsize{14}{15}\selectfont,text=black!85,yshift=15pt}}]
\addplot[cellplot] table[x expr=\thisrow{i}*2.1,y expr=\thisrow{j}*0.3] {\tF};
\node[nlab] at (rel axis cs:0.96,0.036) {n = 50258};
\end{axis}
\end{tikzpicture}
\end{document}
